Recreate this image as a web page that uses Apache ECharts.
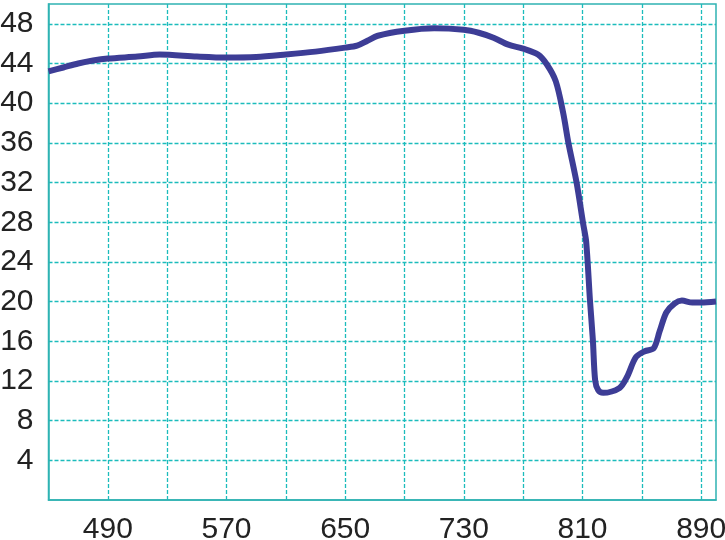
<!DOCTYPE html>
<html>
<head>
<meta charset="utf-8">
<script src="https://cdn.jsdelivr.net/npm/echarts@6/dist/echarts.min.js"></script>
<style>
html,body{margin:0;padding:0;background:#fff;}
#container1{width:725px;height:540px;}
</style>
</head>
<body>
<div id="container1"></div>
<script>
var wavelength=[450,460,470,480,490,510,525,550,570,590,610,630,650,658,665,672,690,710,730,740,750,760,770,780,786,792,797,800.5,806,810.5,812.5,815,817,818.5,820.5,824,835,840,846,852,858,862,866.5,872,877,884,890,900];
var value=[43.2,43.6,44.0,44.3,44.5,44.7,44.9,44.7,44.6,44.65,44.9,45.2,45.6,45.8,46.3,46.8,47.3,47.55,47.4,47.1,46.6,45.9,45.5,44.9,43.9,42.2,39.0,36,32,27.8,26,20.2,16.1,12.1,11.1,10.8,11.3,12.4,14.4,15.0,15.3,17.0,18.9,19.8,20.1,19.9,19.9,20.0];
var xLabels=[490,570,650,730,810,890];
var xGrid=[490,530,570,610,650,690,730,770,810,850,890];
var yLabels=[4,8,12,16,20,24,28,32,36,40,44,48];

var points=[];
for(var i=0;i<wavelength.length;i++){
    points.push([wavelength[i],value[i]]);
}

var teal='#2fb3b3';
var dash='#1cbcbc';
var dom1=document.getElementById("container1");
var myChart1=echarts.init(dom1);
var option1={
    animation:false,
    grid:{
        left:48.5,
        right:9,
        top:4,
        bottom:40,
        outerBoundsMode:'none',
        containLabel:false,
        show:true,
        borderColor:teal,
        borderWidth:1.5
    },
    xAxis:{
        type:'value',
        min:450,
        max:900,
        axisLine:{lineStyle:{color:teal,width:1.5}},
        axisTick:{show:false,customValues:xGrid},
        axisLabel:{
            customValues:xLabels,
            color:'#222',
            fontSize:30,
            fontFamily:'Liberation Sans, Arial, sans-serif',
            margin:15
        },
        splitLine:{show:true,lineStyle:{color:dash,width:1.3,type:[4,2]}}
    },
    yAxis:{
        type:'value',
        min:0,
        max:50,
        axisLine:{show:true,lineStyle:{color:teal,width:1.5}},
        axisTick:{show:false,customValues:yLabels},
        axisLabel:{
            customValues:yLabels,
            color:'#222',
            fontSize:30,
            fontFamily:'Liberation Sans, Arial, sans-serif',
            margin:15
        },
        splitLine:{show:true,lineStyle:{color:dash,width:1.3,type:[4,2]}}
    },
    series:[{
        type:'line',
        data:points,
        smooth:0.3,
        symbol:'none',
        lineStyle:{color:'#3d3d96',width:6}
    }]
};
myChart1.setOption(option1);
</script>
</body>
</html>
